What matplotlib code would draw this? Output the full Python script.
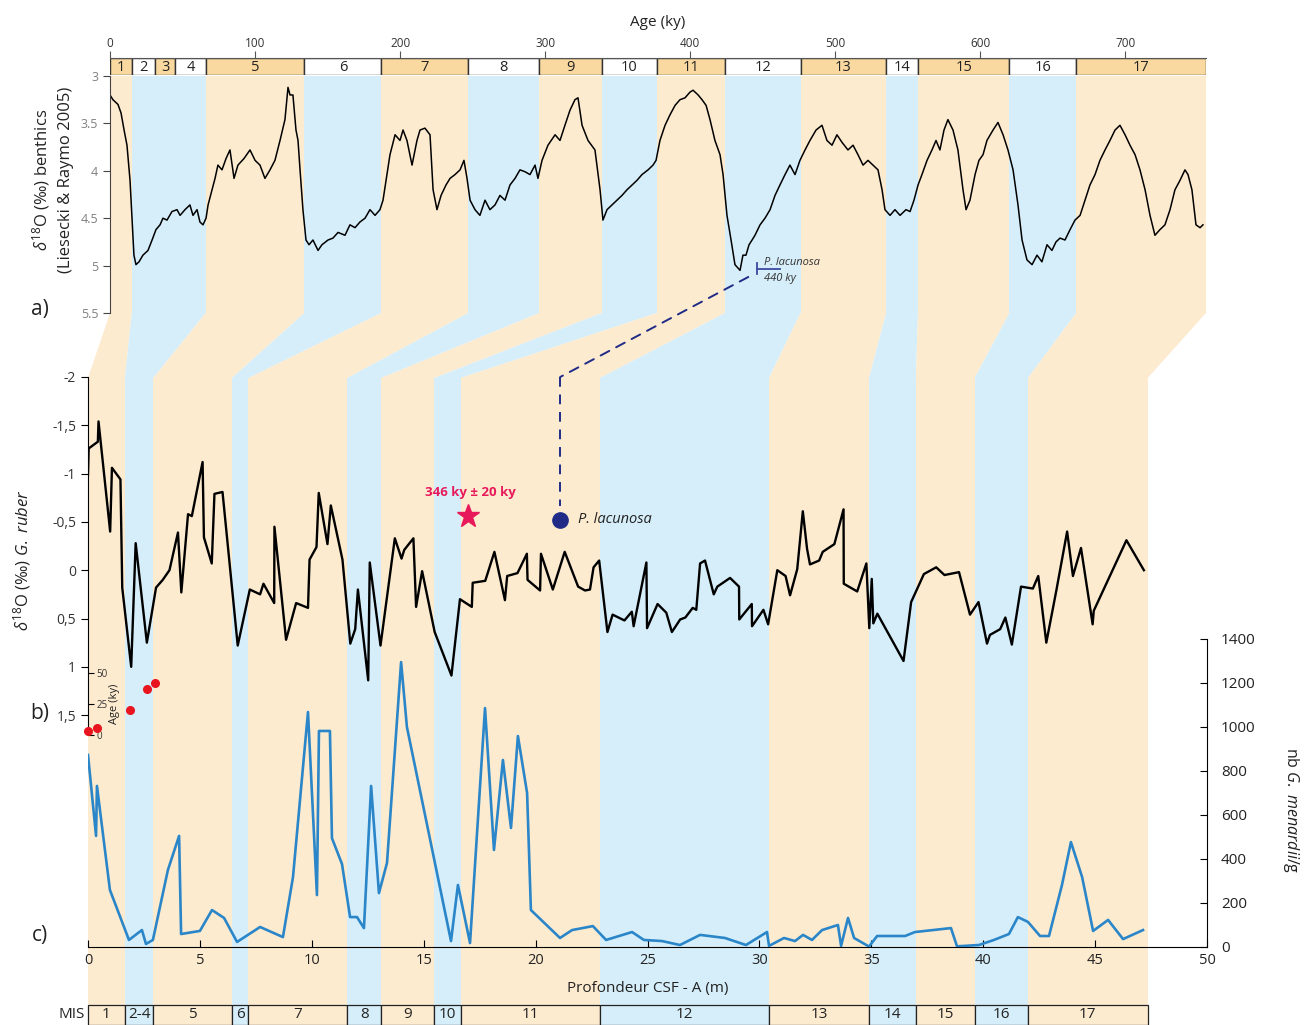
import matplotlib
matplotlib.use("Agg")
import matplotlib.pyplot as plt
from matplotlib.patches import Rectangle, Polygon, ConnectionPatch

plt.rcParams['font.family'] = ['Open Sans', 'DejaVu Sans']
plt.rcParams['mathtext.fontset'] = 'custom'
plt.rcParams['mathtext.rm'] = 'Open Sans'
plt.rcParams['mathtext.it'] = 'Open Sans:italic'
plt.rcParams['mathtext.bf'] = 'Open Sans:bold'

W, H = 1308, 1025

# --- a) LR04 benthic stack (age ky, d18O permil)
lr04_age = [0, 2, 5.5, 7.6, 9.7, 11.7, 13.8, 15.2, 16.5, 17.9, 20, 22.7, 26.2, 29, 31.7, 34.5, 36.5, 39.3,
            42.7, 46.2, 48.3, 51.7, 55.1, 57.2, 60, 62, 64.1, 66.2, 67.6, 70.3, 72.4, 74.4, 77.2, 80, 82.7,
            85.5, 88.2, 92.4, 96.5, 100, 103.4, 106.8, 110.3, 113.7, 117.2, 120.6, 122.7, 124.1, 126.1,
            128.2, 129.6, 131, 133, 135.1, 137.2, 139.9, 143.4, 146.1, 150.3, 153.7, 157.2, 162, 165.4,
            168.9, 172.3, 175.8, 179.2, 182.7, 186.1, 188.2, 190.9, 193, 196.5, 199.9, 202, 204.7, 208.2,
            211.6, 213.7, 217.1, 220.6, 222.7, 225.4, 228.2, 231.6, 234.4, 237.8, 241.3, 244, 246.1, 248.2,
            251.6, 255, 258.5, 261.9, 265.4, 268.8, 272.3, 275.7, 279.2, 282.6, 286.1, 289.5, 293, 295,
            297.8, 301.9, 306.8, 310.2, 313.6, 317.1, 320.5, 322.6, 325.4, 329.5, 334.3, 337.8, 339.8,
            342.6, 346, 349.5, 352.9, 356.4, 359.8, 363.3, 366.7, 370.9, 374.3, 376.4, 379.1, 382.6, 386,
            389.5, 392.9, 396.4, 399.8, 401.9, 405.4, 408.1, 410.9, 413.6, 417, 420.5, 422.6, 425.3, 428.1,
            430.8, 434.3, 436.3, 438.4, 440.5, 442.6, 444.6, 448.1, 451.5, 455, 458.4, 461.8, 465.3, 468.7,
            472.2, 475.6, 479.1, 482.5, 486.7, 490.8, 494.2, 497.7, 501.1, 504.6, 508.7, 512.2, 515.6,
            519.1, 522.5, 526, 529.4, 532.2, 534.2, 537.7, 541.1, 544.6, 548.7, 551.5, 554.2, 557, 559.7,
            563.2, 566.6, 569.4, 572.1, 574.9, 577.6, 581.1, 584.5, 588, 590.1, 592.8, 596.3, 599, 601.8,
            604.5, 608.7, 612.1, 615.6, 619, 622.5, 625.9, 628.7, 632.1, 635.6, 639, 642.4, 645.9, 649.3,
            652.1, 654.9, 658.3, 661.8, 665.2, 668.7, 672.1, 675.5, 679, 682.4, 685.9, 689.3, 692.8, 696.2,
            699.7, 703.1, 706.6, 710, 713.5, 716.9, 720.3, 723.8, 727.2, 730.7, 734.1, 737.6, 741, 743.1,
            745.8, 748.6, 751.4, 753.4]
lr04_d18o = [3.20, 3.25, 3.30, 3.39, 3.57, 3.73, 4.10, 4.52, 4.89, 4.99, 4.96, 4.89, 4.84, 4.73, 4.62, 4.57,
             4.50, 4.52, 4.43, 4.41, 4.47, 4.41, 4.36, 4.47, 4.41, 4.54, 4.57, 4.50, 4.36, 4.20, 4.08, 3.94,
             3.99, 3.87, 3.78, 4.08, 3.94, 3.87, 3.78, 3.89, 3.94, 4.08, 3.99, 3.89, 3.68, 3.46, 3.12, 3.20,
             3.20, 3.57, 3.68, 3.99, 4.41, 4.73, 4.78, 4.73, 4.84, 4.78, 4.73, 4.71, 4.65, 4.68, 4.57, 4.60,
             4.54, 4.50, 4.41, 4.47, 4.41, 4.31, 4.04, 3.83, 3.62, 3.68, 3.57, 3.68, 3.94, 3.68, 3.57, 3.55,
             3.62, 4.20, 4.41, 4.26, 4.15, 4.08, 4.04, 3.99, 3.89, 4.08, 4.31, 4.41, 4.47, 4.31, 4.41, 4.36,
             4.26, 4.31, 4.15, 4.08, 3.99, 4.01, 4.04, 3.94, 4.08, 3.89, 3.73, 3.62, 3.68, 3.52, 3.36, 3.25,
             3.23, 3.52, 3.68, 3.78, 4.20, 4.52, 4.41, 4.36, 4.31, 4.26, 4.20, 4.15, 4.10, 4.04, 3.99, 3.94,
             3.89, 3.68, 3.52, 3.41, 3.31, 3.25, 3.23, 3.17, 3.15, 3.20, 3.25, 3.31, 3.46, 3.68, 3.83, 4.04,
             4.47, 4.73, 4.99, 5.05, 4.89, 4.89, 4.78, 4.73, 4.68, 4.57, 4.50, 4.41, 4.26, 4.15, 4.04, 3.94,
             4.04, 3.89, 3.78, 3.68, 3.57, 3.52, 3.68, 3.73, 3.62, 3.70, 3.78, 3.73, 3.83, 3.94, 3.89, 3.94,
             3.99, 4.20, 4.41, 4.47, 4.41, 4.47, 4.41, 4.43, 4.31, 4.15, 4.04, 3.89, 3.78, 3.68, 3.78, 3.57,
             3.46, 3.57, 3.78, 4.20, 4.41, 4.31, 4.04, 3.89, 3.83, 3.68, 3.57, 3.49, 3.62, 3.78, 3.99, 4.36,
             4.73, 4.94, 4.99, 4.89, 4.96, 4.78, 4.84, 4.75, 4.71, 4.73, 4.62, 4.52, 4.47, 4.31, 4.15, 4.04,
             3.89, 3.78, 3.68, 3.57, 3.52, 3.62, 3.73, 3.83, 3.99, 4.20, 4.47, 4.68, 4.62, 4.57, 4.41, 4.20,
             4.10, 3.99, 4.04, 4.20, 4.57, 4.60, 4.57]

# --- b) G. ruber d18O vs depth (m)
ruber_depth = [0.0, 0.03, 0.44, 0.47, 0.99, 1.07, 1.45, 1.53, 1.93, 2.13,
               2.63, 3.04, 3.34, 3.64, 4.02, 4.17, 4.47, 4.64, 5.12, 5.18,
               5.53, 5.65, 6.01, 6.69, 7.23, 7.69, 7.84, 8.32, 8.33, 8.85,
               9.30, 9.83, 9.90, 10.21, 10.31, 10.70, 10.85, 11.37, 11.72, 11.94,
               12.06, 12.52, 12.59, 13.07, 13.71, 14.01, 14.13, 14.54, 14.66, 14.93,
               15.49, 16.24, 16.62, 17.15, 17.19, 17.75, 18.16, 18.63, 18.73, 19.19,
               19.61, 19.64, 20.20, 20.24, 20.77, 21.30, 21.90, 22.21, 22.43, 22.59,
               22.84, 23.21, 23.44, 23.97, 24.30, 24.38, 24.95, 24.98, 25.45, 25.84,
               26.09, 26.46, 26.69, 27.02, 27.18, 27.35, 27.57, 27.96, 28.12, 28.69,
               29.09, 29.10, 29.66, 29.67, 30.18, 30.39, 30.80, 31.17, 31.37, 31.69,
               31.94, 32.13, 32.26, 32.67, 32.83, 33.35, 33.76, 33.77, 34.37, 34.78,
               34.91, 35.02, 35.09, 35.27, 36.44, 36.78, 37.35, 37.90, 38.27, 38.92,
               39.41, 39.79, 40.17, 40.30, 40.76, 40.99, 41.28, 41.69, 42.22, 42.46,
               42.82, 43.26, 43.75, 44.01, 44.37, 44.89, 44.94, 46.40, 47.18]
ruber_d18o = [-0.99, -1.26, -1.33, -1.54, -0.40, -1.06, -0.94, 0.18, 1.00, -0.28,
              0.75, 0.18, 0.10, 0.00, -0.39, 0.23, -0.58, -0.56, -1.12, -0.34,
              -0.07, -0.79, -0.81, 0.78, 0.20, 0.25, 0.14, 0.34, -0.45, 0.72,
              0.34, 0.39, -0.11, -0.24, -0.80, -0.27, -0.67, -0.11, 0.76, 0.61,
              0.20, 1.14, -0.08, 0.78, -0.33, -0.12, -0.21, -0.33, 0.38, 0.01,
              0.64, 1.09, 0.30, 0.38, 0.13, 0.11, -0.19, 0.31, 0.06, 0.03,
              -0.17, 0.10, 0.21, -0.17, 0.20, -0.19, 0.17, 0.21, 0.20, -0.03,
              -0.10, 0.64, 0.46, 0.52, 0.43, 0.58, -0.08, 0.60, 0.35, 0.44,
              0.64, 0.51, 0.49, 0.39, 0.41, -0.07, -0.10, 0.25, 0.17, 0.08,
              0.17, 0.51, 0.35, 0.58, 0.41, 0.56, 0.00, 0.06, 0.26, -0.01,
              -0.61, -0.22, -0.06, -0.10, -0.19, -0.27, -0.63, 0.14, 0.22, -0.07,
              0.60, 0.09, 0.55, 0.45, 0.94, 0.33, 0.04, -0.03, 0.05, 0.02,
              0.46, 0.33, 0.76, 0.67, 0.61, 0.49, 0.77, 0.17, 0.19, 0.06,
              0.75, 0.22, -0.40, 0.06, -0.23, 0.56, 0.42, -0.31, 0.00]

# --- c) G. menardii per gram vs depth (m)
men_depth = [0, 0.36, 0.40, 0.98, 1.83, 2.41, 2.59, 2.90, 3.57, 4.07,
             4.16, 5.00, 5.54, 6.08, 6.66, 7.69, 8.71, 9.16, 9.83, 10.23,
             10.32, 10.81, 10.90, 11.35, 11.71, 12.02, 12.33, 12.65, 13.00, 13.36,
             13.99, 14.25, 16.22, 16.53, 17.07, 17.74, 18.14, 18.54, 18.90, 19.21,
             19.62, 19.79, 21.09, 21.63, 22.56, 23.15, 24.31, 24.84, 25.65, 26.45,
             27.35, 28.46, 29.40, 30.34, 30.43, 31.10, 31.59, 31.95, 32.35, 32.80,
             33.51, 33.65, 33.96, 34.23, 34.90, 35.26, 36.51, 36.95, 38.56, 38.83,
             39.81, 40.48, 41.15, 41.55, 42.00, 42.54, 42.94, 43.52, 43.92, 44.42,
             44.91, 45.58, 46.25, 47.14]
men_count = [873, 505, 732, 259, 32, 77, 14, 32, 350, 505,
             59, 73, 168, 132, 23, 91, 45, 318, 1068, 236,
             982, 982, 495, 377, 136, 136, 86, 732, 245, 382,
             1295, 1000, 27, 282, 18, 1086, 441, 850, 541, 959,
             700, 168, 41, 77, 95, 32, 68, 32, 27, 9,
             55, 41, 9, 68, 5, 41, 27, 55, 32, 77,
             100, 5, 132, 41, 2, 50, 50, 68, 86, 3,
             9, 32, 59, 136, 114, 50, 50, 282, 477, 318,
             73, 123, 36, 77]

# ages of the top samples (depth m, age ky)
age_depth = [0.0, 0.4, 1.88, 2.64, 2.99]
age_ky = [3.2, 5.4, 20.0, 37.5, 41.6]

# MIS boundaries
mis_top_labels = [str(i) for i in range(1, 18)]
mis_top_bounds = [0, 15, 31, 45, 66, 134, 187, 247, 296, 339, 377, 424, 476, 535, 557, 620, 666, 755.5]
band_age = [0, 15, 66, 134, 187, 247, 296, 339, 377, 424, 476, 535, 557, 620, 666, 755.5]
band_depth = [0, 1.65, 2.92, 6.43, 7.17, 11.58, 13.1, 15.47, 16.65, 22.87, 30.43, 34.9, 36.99, 39.62, 42.0, 47.35]
mis_bot_labels = ['1', '2-4', '5', '6', '7', '8', '9', '10', '11', '12', '13', '14', '15', '16', '17']

lacunosa_age = 440
lacunosa_depth = 21.1
lacunosa_d18o = -0.52
star_depth = 16.98
star_d18o = -0.56

ORANGE = '#fdebd0'
BLUE = '#d6eef9'
BOX_ORANGE = '#fad9a1'
NAVY = '#1f2b86'
PINK = '#e8195a'

fig = plt.figure(figsize=(W / 100, H / 100), dpi=100)


def add_ax(x0, y0, x1, y1):
    return fig.add_axes([x0 / W, 1 - y1 / H, (x1 - x0) / W, (y1 - y0) / H])


def band_color(i):
    return ORANGE if i % 2 == 0 else BLUE


# background bands for panels b and c
ax_bg = add_ax(88, 378, 1207, 1025)
ax_bg.set_xlim(0, 50)
ax_bg.set_ylim(0, 1)
ax_bg.axis('off')
box_h = 20 / 647
for i in range(len(band_depth) - 1):
    ax_bg.axvspan(band_depth[i], band_depth[i + 1], ymin=box_h, ymax=1, color=band_color(i), lw=0)
    ax_bg.add_patch(Rectangle((band_depth[i], 0), band_depth[i + 1] - band_depth[i], box_h,
                              facecolor=band_color(i), edgecolor='#222222', lw=0.9, clip_on=False))
    ax_bg.text((band_depth[i] + band_depth[i + 1]) / 2, box_h / 2, mis_bot_labels[i],
               ha='center', va='center', fontsize=11, color='#222222')
ax_bg.text(-0.15, box_h / 2, 'MIS', ha='right', va='center', fontsize=11, color='#222222')

# top MIS boxes + age axis
ax_box = add_ax(110, 58, 1206, 75)
ax_box.set_xlim(0, 755.5)
ax_box.set_ylim(0, 1)
for i in range(len(mis_top_labels)):
    lo, hi = mis_top_bounds[i], mis_top_bounds[i + 1]
    ax_box.add_patch(Rectangle((lo, 0), hi - lo, 1, facecolor=BOX_ORANGE if i % 2 == 0 else 'white',
                               edgecolor='#333333', lw=1.0))
    ax_box.text((lo + hi) / 2, 0.45, mis_top_labels[i], ha='center', va='center', fontsize=10.5,
                color='#222222')
for s in ['left', 'right', 'bottom']:
    ax_box.spines[s].set_visible(False)
ax_box.spines['top'].set_color('#555555')
ax_box.set_yticks([])
ax_box.xaxis.tick_top()
ax_box.set_xticks(range(0, 701, 100))
ax_box.tick_params(axis='x', direction='out', length=5, labelsize=8.5, colors='#555555',
                   labelcolor='#333333', pad=1)
ax_box.set_xlabel('Age (ky)', fontsize=11, labelpad=8, color='#222222')
ax_box.xaxis.set_label_position('top')

# panel a
ax1 = add_ax(110, 76, 1206, 313)
ax1.set_xlim(0, 755.5)
ax1.set_ylim(5.5, 3)
for i in range(len(band_age) - 1):
    ax1.axvspan(band_age[i], band_age[i + 1], color=band_color(i), lw=0)
ax1.plot(lr04_age, lr04_d18o, color='black', lw=1.1)
for s in ['top', 'right', 'bottom']:
    ax1.spines[s].set_visible(False)
ax1.spines['left'].set_color('#444444')
ax1.set_xticks([])
ax1.set_yticks([3, 3.5, 4, 4.5, 5, 5.5])
ax1.set_yticklabels(['3', '3.5', '4', '4.5', '5', '5.5'])
ax1.tick_params(axis='y', direction='out', length=5, labelsize=9, labelcolor='#808080', color='#444444')
ax1.plot([446, 446], [4.97, 5.09], color='#3a4aa0', lw=1.3)
ax1.plot([446, 462], [5.04, 5.04], color='#3a4aa0', lw=1.3)
ax1.text(451, 4.97, 'P. lacunosa', style='italic', fontsize=8, color='#333333', va='center')
ax1.text(451, 5.14, '440 ky', style='italic', fontsize=8, color='#333333', va='center')

# panel b
ax2 = add_ax(88, 377, 1207, 735)
ax2.set_facecolor('none')
ax2.set_xlim(0, 50)
ax2.set_ylim(1.706, -2)
ax2.plot(ruber_depth, ruber_d18o, color='black', lw=1.7, zorder=3)
for s in ['top', 'right', 'bottom']:
    ax2.spines[s].set_visible(False)
ax2.set_xticks([])
ax2.set_yticks([-2, -1.5, -1, -0.5, 0, 0.5, 1, 1.5])
ax2.set_yticklabels(['-2', '-1,5', '-1', '-0,5', '0', '0,5', '1', '1,5'])
ax2.tick_params(axis='y', direction='out', length=5, labelsize=10, labelcolor='#333333')
ax2.plot(star_depth, star_d18o, marker='*', ms=17, color=PINK, mec=PINK, zorder=5)
ax2.text(star_depth + 0.1, -0.80, '346 ky ± 20 ky', ha='center', va='center', fontsize=9.5,
         fontweight='bold', color=PINK)
ax2.plot([lacunosa_depth, lacunosa_depth], [-2, -0.66], color=NAVY, lw=1.4, ls=(0, (5, 4)), zorder=4)
ax2.plot(lacunosa_depth, lacunosa_d18o, 'o', ms=11, color=NAVY, zorder=5)
ax2.text(lacunosa_depth + 0.8, lacunosa_d18o, 'P. lacunosa', style='italic', fontsize=10.5,
         color='#222222', va='center')

# age inset
ax_age = add_ax(88, 673, 1207, 735)
ax_age.set_facecolor('none')
ax_age.set_xlim(0, 50)
ax_age.set_ylim(0, 50)
for s in ax_age.spines.values():
    s.set_visible(False)
ax_age.set_xticks([])
ax_age.set_yticks([0, 25, 50])
ax_age.tick_params(axis='y', direction='in', length=4, labelsize=7, pad=-6, labelcolor='#333333')
for t in ax_age.get_yticklabels():
    t.set_horizontalalignment('left')
ax_age.plot(age_depth, age_ky, 'o', ms=5.5, color='#e8141e', zorder=5, clip_on=False)
ax_age.text(1.2, 25, 'Age (ky)', rotation=90, ha='center', va='center', fontsize=8, color='#222222')

# panel c
ax3 = add_ax(88, 639, 1207, 947)
ax3.set_facecolor('none')
ax3.set_xlim(0, 50)
ax3.set_ylim(0, 1400)
ax3.plot(men_depth, men_count, color='#2a86c8', lw=1.9, zorder=3)
ax3.spines['top'].set_visible(False)
ax3.spines['left'].set_visible(False)
ax3.yaxis.tick_right()
ax3.set_yticks(range(0, 1401, 200))
ax3.tick_params(axis='y', direction='in', length=5, labelsize=11, pad=10, labelcolor='#222222')
ax3.set_xticks(range(0, 51, 5))
ax3.tick_params(axis='x', direction='in', length=5, labelsize=10.5, pad=4, labelcolor='#222222')
ax3.set_xlabel('Profondeur CSF - A (m)', fontsize=11, labelpad=10, color='#222222')

# connectors between age bands and depth bands
inv = fig.transFigure.inverted()
for i in range(len(band_age) - 1):
    top = ax1.transData.transform([(band_age[i], 5.5), (band_age[i + 1], 5.5)])
    bot = ax_bg.transData.transform([(band_depth[i + 1], 1), (band_depth[i], 1)])
    pts = inv.transform(list(top) + list(bot))
    fig.add_artist(Polygon(pts, closed=True, transform=fig.transFigure, facecolor=band_color(i),
                           edgecolor='none', zorder=0))

con = ConnectionPatch(xyA=(lacunosa_age, 5.12), coordsA=ax1.transData,
                      xyB=(lacunosa_depth, -2), coordsB=ax2.transData,
                      color=NAVY, lw=1.4, ls=(0, (5, 4)), zorder=4)
fig.add_artist(con)

# axis titles and panel letters
fig.text(52 / W, 1 - 180 / H, r'$\delta^{18}$O (‰) benthics' + '\n(Liesecki & Raymo 2005)',
         rotation=90, ha='center', va='center', fontsize=12, linespacing=1.45, color='#222222')
fig.text(22 / W, 1 - 560 / H, r'$\delta^{18}$O (‰) $\mathit{G.\ ruber}$', rotation=90,
         ha='center', va='center', fontsize=12, color='#222222')
fig.text(1291 / W, 1 - 810 / H, r'nb $\mathit{G.\ menardii}$/g', rotation=-90,
         ha='center', va='center', fontsize=11.5, color='#222222')
fig.text(40 / W, 1 - 310 / H, 'a)', fontsize=15, ha='center', va='center', color='#222222')
fig.text(40 / W, 1 - 713 / H, 'b)', fontsize=15, ha='center', va='center', color='#222222')
fig.text(40 / W, 1 - 935 / H, 'c)', fontsize=15, ha='center', va='center', color='#222222')

fig.savefig('out.png', dpi=100)
